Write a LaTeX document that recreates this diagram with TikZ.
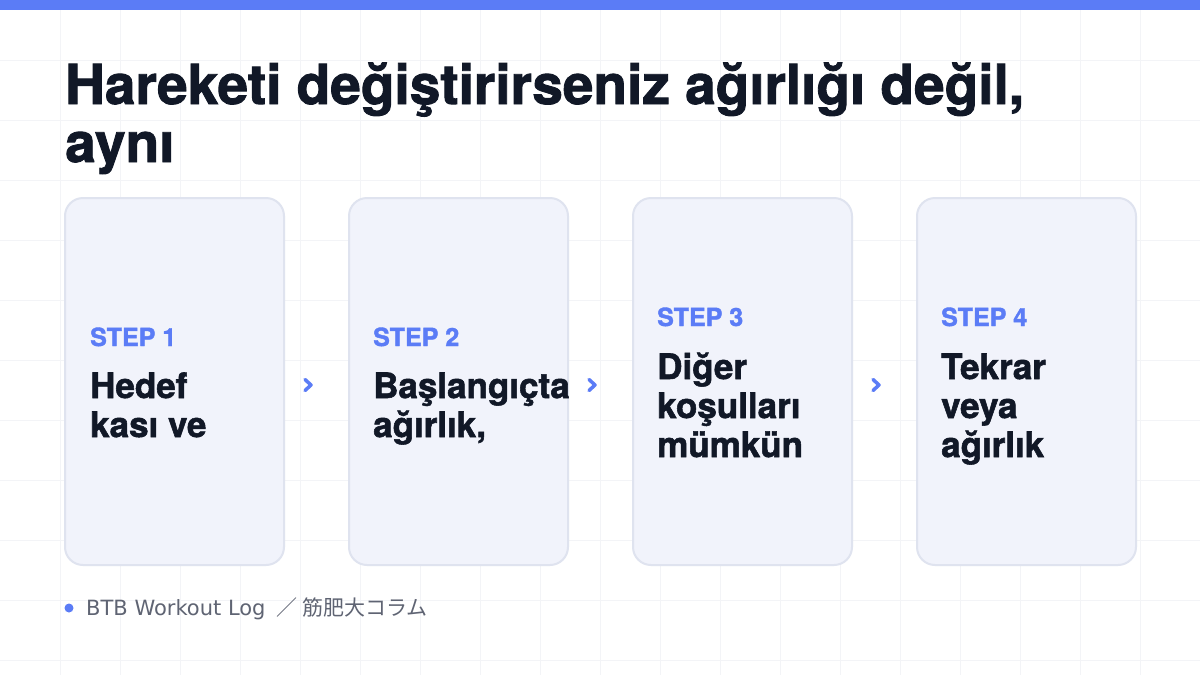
\documentclass[tikz,border=0pt]{standalone}
\usepackage{fontspec}
\setmainfont{TeX Gyre Heros}
\newfontfamily\heavyfont{TeX Gyre Heros}[BoldFeatures={FakeBold=1.6}]
\newfontfamily\jpfont{Noto Sans CJK JP}
\newfontfamily\footfont{DejaVu Sans}
\usetikzlibrary{calc}
\definecolor{ink}{HTML}{111827}
\definecolor{accent}{HTML}{5B7CF6}
\definecolor{cardfill}{HTML}{F1F3FB}
\definecolor{cardline}{HTML}{DFE3EF}
\definecolor{gridc}{HTML}{F3F4F7}
\definecolor{foot}{HTML}{5F6473}
\tikzset{
  card/.style={draw=cardline, line width=2pt, fill=cardfill, rounded corners=18pt,
    minimum width=219pt, minimum height=367pt, inner sep=0pt},
  titletxt/.style={anchor=base west, inner sep=0pt, text=ink, font=\heavyfont\fontsize{55}{58}\selectfont\bfseries},
  steplbl/.style={anchor=base west, inner sep=0pt, text=accent, font=\heavyfont\fontsize{25}{28}\selectfont\bfseries},
  bodytxt/.style={anchor=base west, inner sep=0pt, text=ink, font=\heavyfont\fontsize{35}{39}\selectfont\bfseries},
  chevst/.style={draw=accent, line width=3.5pt, line cap=round, line join=round},
  foottxt/.style={anchor=base west, inner sep=0pt, text=foot, font=\footfont\fontsize{21}{24}\selectfont}
}
\begin{document}
\begin{tikzpicture}[x=1pt,y=-1pt]
\useasboundingbox (0,0) rectangle (1200,675);
\fill[white] (0,0) rectangle (1200,675);
\foreach \x in {60,120,...,1140} \draw[gridc, line width=1pt] (\x,10) -- (\x,675);
\foreach \y in {60,120,...,660} \draw[gridc, line width=1pt] (0,\y) -- (1200,\y);
\fill[accent] (0,0) rectangle (1200,10);

\node[titletxt] (t1) at (65,104) {Hareketi değiştirirseniz ağırlığı değil,};
\node[titletxt] (t2) at (65,162) {aynı};

\node[card] (c1) at (174.5,381.5) {};
\node[card] (c2) at (458.5,381.5) {};
\node[card] (c3) at (742.5,381.5) {};
\node[card] (c4) at (1026.5,381.5) {};

\node[steplbl] (s1) at (90,346) {STEP 1};
\node[bodytxt] (b1a) at (90,398) {Hedef};
\node[bodytxt] (b1b) at (90,437) {kası ve};

\node[steplbl] (s2) at (373,346) {STEP 2};
\node[bodytxt] (b2a) at (373,398) {Başlangıçta};
\node[bodytxt] (b2b) at (373,437) {ağırlık,};

\node[steplbl] (s3) at (657,326) {STEP 3};
\node[bodytxt] (b3a) at (657,379) {Diğer};
\node[bodytxt] (b3b) at (657,418) {koşulları};
\node[bodytxt] (b3c) at (657,457) {mümkün};

\node[steplbl] (s4) at (941,326) {STEP 4};
\node[bodytxt] (b4a) at (941,379) {Tekrar};
\node[bodytxt] (b4b) at (941,418) {veya};
\node[bodytxt] (b4c) at (941,457) {ağırlık};

\coordinate (m1) at ($(c1.east)!0.5!(c2.west)+(-8,3.5)$);
\coordinate (m2) at ($(c2.east)!0.5!(c3.west)+(-8,3.5)$);
\coordinate (m3) at ($(c3.east)!0.5!(c4.west)+(-8,3.5)$);
\foreach \m in {m1,m2,m3}
  \draw[chevst] ($(\m)+(-3.5,-5.5)$) -- ($(\m)+(2.5,0)$) -- ($(\m)+(-3.5,5.5)$);

\fill[accent] (69,608) circle (4.5);
\node[foottxt] (ft) at (86,615) {BTB Workout Log {\jpfont\ ／\ 筋肥大コラム}};
\end{tikzpicture}
\end{document}
